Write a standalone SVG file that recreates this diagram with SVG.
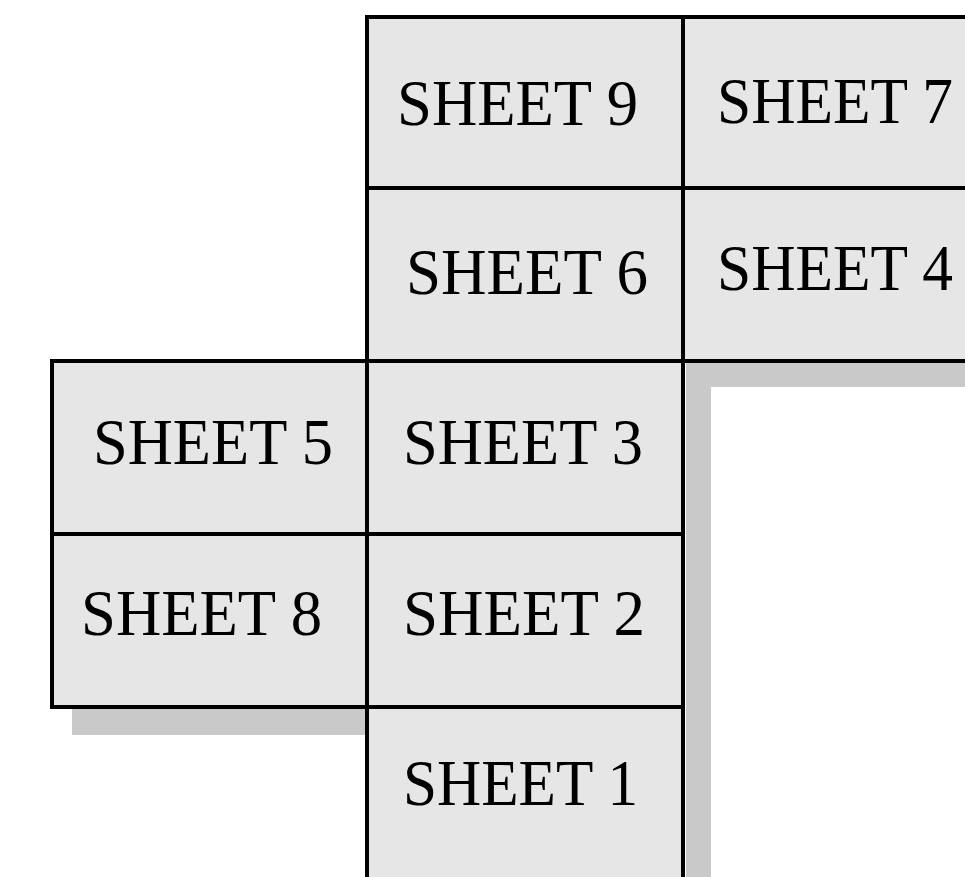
<svg xmlns="http://www.w3.org/2000/svg" width="965" height="877" viewBox="0 0 965 877">
<style>
.cell{fill:#e6e6e6;stroke:#000;stroke-width:4}
.shadow{fill:#c9c9c9}
.lbl{font-family:"Liberation Serif","Times New Roman",serif;font-size:66px;fill:#000}
</style>
<rect width="965" height="877" fill="#fff"/>
<g id="shadows">
<rect class="shadow" x="686" y="362" width="25" height="520"/>
<rect class="shadow" x="686" y="362" width="285" height="25"/>
<rect class="shadow" x="72" y="709" width="295" height="26"/>
</g>
<g id="connectors"/>
<g id="sheet9"><rect class="cell" x="367" y="17" width="316" height="171"/><text class="lbl" x="397" y="125" textLength="241" lengthAdjust="spacingAndGlyphs">SHEET 9</text></g>
<g id="sheet7"><rect class="cell" x="683" y="17" width="290" height="171"/><text class="lbl" x="717" y="123" textLength="236" lengthAdjust="spacingAndGlyphs">SHEET 7</text></g>
<g id="sheet6"><rect class="cell" x="367" y="188" width="316" height="173"/><text class="lbl" x="406" y="294" textLength="242" lengthAdjust="spacingAndGlyphs">SHEET 6</text></g>
<g id="sheet4"><rect class="cell" x="683" y="188" width="290" height="173"/><text class="lbl" x="717" y="290" textLength="236" lengthAdjust="spacingAndGlyphs">SHEET 4</text></g>
<g id="sheet5"><rect class="cell" x="52" y="361" width="315" height="173"/><text class="lbl" x="93" y="464" textLength="240" lengthAdjust="spacingAndGlyphs">SHEET 5</text></g>
<g id="sheet3"><rect class="cell" x="367" y="361" width="316" height="173"/><text class="lbl" x="403" y="464" textLength="240" lengthAdjust="spacingAndGlyphs">SHEET 3</text></g>
<g id="sheet8"><rect class="cell" x="52" y="534" width="315" height="173"/><text class="lbl" x="81" y="635" textLength="241" lengthAdjust="spacingAndGlyphs">SHEET 8</text></g>
<g id="sheet2"><rect class="cell" x="367" y="534" width="316" height="173"/><text class="lbl" x="403" y="635" textLength="242" lengthAdjust="spacingAndGlyphs">SHEET 2</text></g>
<g id="sheet1"><rect class="cell" x="367" y="707" width="316" height="175"/><text class="lbl" x="403" y="805" textLength="235" lengthAdjust="spacingAndGlyphs">SHEET 1</text></g>
</svg>
